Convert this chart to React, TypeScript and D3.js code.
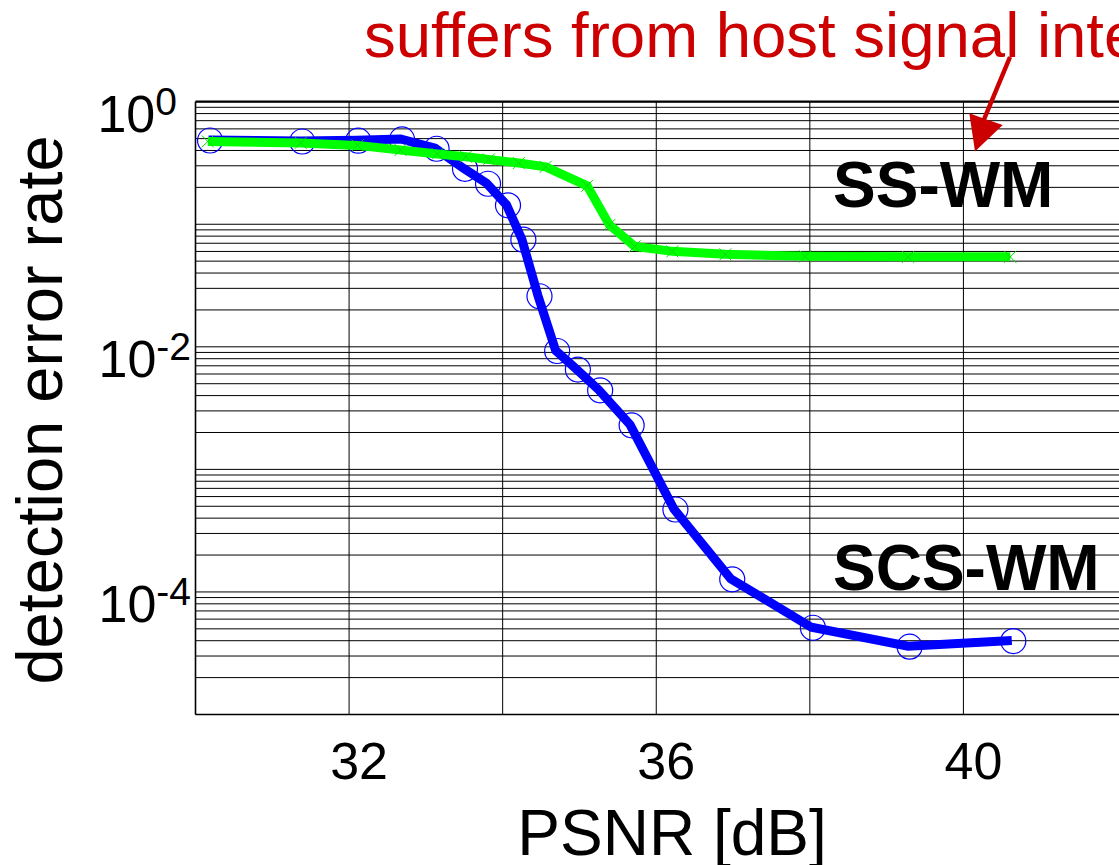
import React from "react";
import * as d3 from "d3";

// ---- data ----
const scsX = [30.17, 31.37, 32.1, 32.67, 33.12, 33.49, 33.79, 34.05, 34.25, 34.46, 34.69, 34.96, 35.25, 35.66, 36.23, 36.97, 38.02, 39.28, 40.63];
const scsY = [0.487, 0.478, 0.485, 0.497, 0.417, 0.286, 0.216, 0.144, 0.0755, 0.0261, 0.00933, 0.00658, 0.00446, 0.00231, 4.75e-4, 1.28e-4, 5.15e-5, 3.61e-5, 4.01e-5];

const ssX = [30.16, 31.37, 32.11, 32.67, 33.15, 33.52, 33.82, 34.21, 34.56, 35.1, 35.39, 35.72, 36.21, 36.9, 37.94, 39.28, 40.61];
const ssY = [0.474, 0.461, 0.44, 0.404, 0.375, 0.356, 0.338, 0.316, 0.294, 0.206, 0.0988, 0.066, 0.0601, 0.0568, 0.0547, 0.0542, 0.0542];

const xGrid = [32, 34, 36, 38, 40];
const xTickLabels = [32, 36, 40];
const yTickExps = [0, -2, -4];

const title = "suffers from host signal interference";
const xLabel = "PSNR [dB]";
const yLabel = "detection error rate";
const labelSS = "SS-WM";
const labelSCS = "SCS-WM";

const W = 1119;
const H = 865;
const FONT = "'Liberation Sans', Arial, sans-serif";

export default function App() {
  const left = 195.5;
  const top = 101.7;
  const bottom = 714.5;
  const x = d3.scaleLinear().domain([30, 42]).range([left, 1117]);
  const y = d3.scaleLog().domain([1e-5, 1]).range([bottom, top]);

  const line = d3
    .line<[number, number]>()
    .x((d) => x(d[0]))
    .y((d) => y(d[1]));

  const scs: [number, number][] = scsX.map((v, i) => [v, scsY[i]]);
  const ss: [number, number][] = ssX.map((v, i) => [v, ssY[i]]);

  const yMinor = y.ticks();

  // arrow geometry (annotation, pixel space)
  const ax0 = 1010, ay0 = 57;
  const head = "969.3,113.3 975,151.5 1002.7,125 985,119";

  return (
    <svg
      width={W}
      height={H}
      style={{ position: "absolute", left: 0, top: 0, background: "#fff" }}
      fontFamily={FONT}
    >
      <rect x={0} y={0} width={W} height={H} fill="#fff" />
      {/* horizontal grid */}
      {yMinor.map((v, i) => (
        <line key={"h" + i} x1={left} x2={W + 5} y1={y(v)} y2={y(v)} stroke="#000" strokeWidth={1} />
      ))}
      {/* vertical grid */}
      {xGrid.map((v) => (
        <line key={"v" + v} x1={x(v)} x2={x(v)} y1={top} y2={bottom} stroke="#000" strokeWidth={1} />
      ))}
      {/* axes frame */}
      <line x1={left} x2={W + 5} y1={top} y2={top} stroke="#000" strokeWidth={2.2} />
      <line x1={left} x2={W + 5} y1={bottom} y2={bottom} stroke="#000" strokeWidth={1.6} />
      <line x1={left} x2={left} y1={top} y2={bottom} stroke="#000" strokeWidth={1.6} />

      {/* SCS-WM (blue) */}
      <path d={line(scs) || ""} fill="none" stroke="#0000ff" strokeWidth={9} strokeLinejoin="miter" />
      {scs.map((d, i) => (
        <circle key={"c" + i} cx={x(d[0]) + 1.5} cy={y(d[1]) + 0.5} r={12.5} fill="none" stroke="#0000ff" strokeWidth={1.2} />
      ))}

      {/* SS-WM (green) */}
      <path d={line(ss) || ""} fill="none" stroke="#00ff00" strokeWidth={9} strokeLinejoin="miter" />
      {ss.map((d, i) => {
        const cx = x(d[0]);
        const cy = y(d[1]);
        const s = 6;
        return (
          <g key={"x" + i} stroke="#00dd00" strokeWidth={1}>
            <line x1={cx - s} y1={cy - s} x2={cx + s} y2={cy + s} />
            <line x1={cx - s} y1={cy + s} x2={cx + s} y2={cy - s} />
          </g>
        );
      })}

      {/* y tick labels */}
      {yTickExps.map((e) => (
        <text key={"yt" + e} x={e === 0 ? 177 : 191} y={y(Math.pow(10, e)) + 30} textAnchor="end" fontSize={52} fill="#000">
          <tspan>10</tspan>
          <tspan fontSize={39} dy={-17}>{String(e)}</tspan>
        </text>
      ))}
      {/* x tick labels */}
      {xTickLabels.map((v) => (
        <text key={"xt" + v} x={x(v) + 10} y={779} textAnchor="middle" fontSize={52} fill="#000">
          {v}
        </text>
      ))}

      {/* axis labels */}
      <text x={672} y={855} textAnchor="middle" fontSize={64} fill="#000">
        {xLabel}
      </text>
      <text transform={`translate(62,410) rotate(-90)`} textAnchor="middle" fontSize={65} fill="#000">
        {yLabel}
      </text>

      {/* series labels */}
      <text x={833} y={207} fontSize={64} fontWeight="bold" fill="#000">
        {labelSS}
      </text>
      <text x={833} y={590} fontSize={64} fontWeight="bold" fill="#000">
        {labelSCS}
      </text>

      {/* title annotation + arrow */}
      <text x={364} y={57} fontSize={63.5} fill="#cc0000">
        {title}
      </text>
      <line x1={ax0} y1={ay0} x2={980} y2={129} stroke="#cc0000" strokeWidth={4.5} />
      <polygon points={head} fill="#cc0000" />
    </svg>
  );
}
